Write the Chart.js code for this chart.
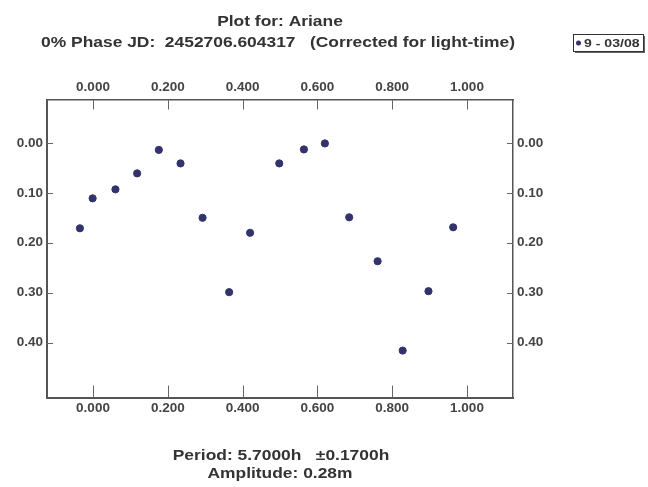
<!DOCTYPE html>
<html>
<head>
<meta charset="utf-8">
<script src="https://cdn.jsdelivr.net/npm/chart.js@4/dist/chart.umd.min.js"></script>
<style>
html,body{margin:0;padding:0;background:#fff;}
#wrap{width:648px;height:487px;position:relative;}
</style>
</head>
<body>
<div id="wrap"><canvas id="c" width="648" height="487"></canvas></div>
<script>
const titleLines = ["Plot for: Ariane", "0% Phase JD:  2452706.604317   (Corrected for light-time)"];
const footerLines = ["Period: 5.7000h   \u00b10.1700h", "Amplitude: 0.28m"];
const seriesLabel = "9 - 03/08";
const phases = [-0.035, -0.001, 0.060, 0.118, 0.176, 0.234, 0.293, 0.364, 0.420, 0.498, 0.564, 0.620, 0.685, 0.761, 0.828, 0.897, 0.963];
const mags   = [0.171, 0.111, 0.093, 0.061, 0.014, 0.041, 0.150, 0.299, 0.180, 0.041, 0.013, 0.001, 0.149, 0.237, 0.416, 0.297, 0.169];
const xTicks = [0.0, 0.2, 0.4, 0.6, 0.8, 1.0];
const yTicks = [0.0, 0.1, 0.2, 0.3, 0.4];

const points = phases.map((p, i) => ({x: p, y: mags[i]}));
const FONT = "'Liberation Sans', Arial, sans-serif";
const axisColor = '#555';
const tickFont = {family: FONT, size: 13.5, weight: 'bold'};

function fixTicks(vals){ return function(scale){ scale.ticks = vals.map(v => ({value: v})); }; }

function stretchText(ctx, text, x, y, sx, align){
  ctx.save();
  ctx.translate(x, y);
  ctx.scale(sx, 1);
  ctx.textAlign = align;
  ctx.fillText(text, 0, 0);
  ctx.restore();
}

const decor = {
  id: 'decor',
  afterDraw(chart){
    const ctx = chart.ctx;
    const ca = chart.chartArea;
    const cx = (ca.left + ca.right) / 2;
    ctx.save();
    // tick marks (inward)
    ctx.strokeStyle = '#666';
    ctx.lineWidth = 1;
    const sx = chart.scales.x, sy = chart.scales.y;
    xTicks.forEach(v => {
      const px = Math.round(sx.getPixelForValue(v)) + 0.5;
      ctx.beginPath(); ctx.moveTo(px, ca.top); ctx.lineTo(px, ca.top + 10); ctx.stroke();
      ctx.beginPath(); ctx.moveTo(px, ca.bottom); ctx.lineTo(px, ca.bottom - 12); ctx.stroke();
    });
    yTicks.forEach(v => {
      const py = Math.round(sy.getPixelForValue(v)) + 0.5;
      ctx.beginPath(); ctx.moveTo(ca.left, py); ctx.lineTo(ca.left + 6, py); ctx.stroke();
      ctx.beginPath(); ctx.moveTo(ca.right, py); ctx.lineTo(ca.right - 6, py); ctx.stroke();
    });
    // titles
    ctx.fillStyle = '#333';
    ctx.textBaseline = 'alphabetic';
    ctx.font = 'bold 15px ' + FONT;
    stretchText(ctx, titleLines[0], cx, 26, 1.16, 'center');
    stretchText(ctx, titleLines[1], cx - 2, 47, 1.16, 'center');
    stretchText(ctx, footerLines[0], cx + 1, 460, 1.16, 'center');
    stretchText(ctx, footerLines[1], cx, 478, 1.16, 'center');
    // legend box
    const lx = 573, ly = 34, lw = 70, lh = 17;
    ctx.fillStyle = '#666';
    ctx.fillRect(lx + 2, ly + 2, lw, lh);
    ctx.fillStyle = '#fff';
    ctx.fillRect(lx, ly, lw, lh);
    ctx.strokeStyle = '#333';
    ctx.lineWidth = 1;
    ctx.strokeRect(lx + 0.5, ly + 0.5, lw, lh);
    ctx.fillStyle = '#33336b';
    ctx.beginPath(); ctx.arc(lx + 5.5, ly + 9, 2.5, 0, Math.PI * 2); ctx.fill();
    ctx.fillStyle = '#333';
    ctx.font = 'bold 11px ' + FONT;
    stretchText(ctx, chart.data.datasets[0].label, lx + 11, ly + 13, 1.28, 'left');
    ctx.restore();
  }
};

new Chart(document.getElementById('c'), {
  type: 'scatter',
  data: {
    datasets: [{
      label: seriesLabel,
      data: points,
      backgroundColor: '#33336b',
      borderColor: '#33336b',
      pointRadius: 3.6,
      pointHoverRadius: 3.6,
      xAxisID: 'x',
      yAxisID: 'y'
    }]
  },
  options: {
    responsive: false,
    animation: false,
    events: [],
    layout: {padding: {top: 69.5, bottom: 59.5, left: 0, right: 95}},
    plugins: {legend: {display: false}, title: {display: false}, tooltip: {enabled: false}},
    scales: {
      x: {
        type: 'linear', position: 'bottom', min: -0.123, max: 1.123,
        afterBuildTicks: fixTicks(xTicks),
        afterFit(s){ s.height = 30; },
        grid: {display: false, drawTicks: false},
        border: {display: true, color: axisColor, width: 2},
        ticks: {font: tickFont, color: '#444', padding: 3, maxRotation: 0, callback: v => v.toFixed(3)}
      },
      x2: {
        type: 'linear', position: 'top', min: -0.123, max: 1.123,
        afterBuildTicks: fixTicks(xTicks),
        afterFit(s){ s.height = 30; },
        grid: {display: false, drawTicks: false},
        border: {display: true, color: axisColor, width: 1.5},
        ticks: {font: tickFont, color: '#444', padding: 4, maxRotation: 0, callback: v => v.toFixed(3)}
      },
      y: {
        type: 'linear', position: 'left', reverse: true, min: -0.087, max: 0.51,
        afterBuildTicks: fixTicks(yTicks),
        afterFit(s){ s.width = 47; },
        grid: {display: false, drawTicks: false},
        border: {display: true, color: axisColor, width: 2},
        ticks: {font: tickFont, color: '#444', padding: 4, callback: v => v.toFixed(2)}
      },
      y2: {
        type: 'linear', position: 'right', reverse: true, min: -0.087, max: 0.51,
        afterBuildTicks: fixTicks(yTicks),
        afterFit(s){ s.width = 40; },
        grid: {display: false, drawTicks: false},
        border: {display: true, color: axisColor, width: 1.5},
        ticks: {font: tickFont, color: '#444', padding: 4, callback: v => v.toFixed(2)}
      }
    }
  },
  plugins: [decor]
});
</script>
</body>
</html>
